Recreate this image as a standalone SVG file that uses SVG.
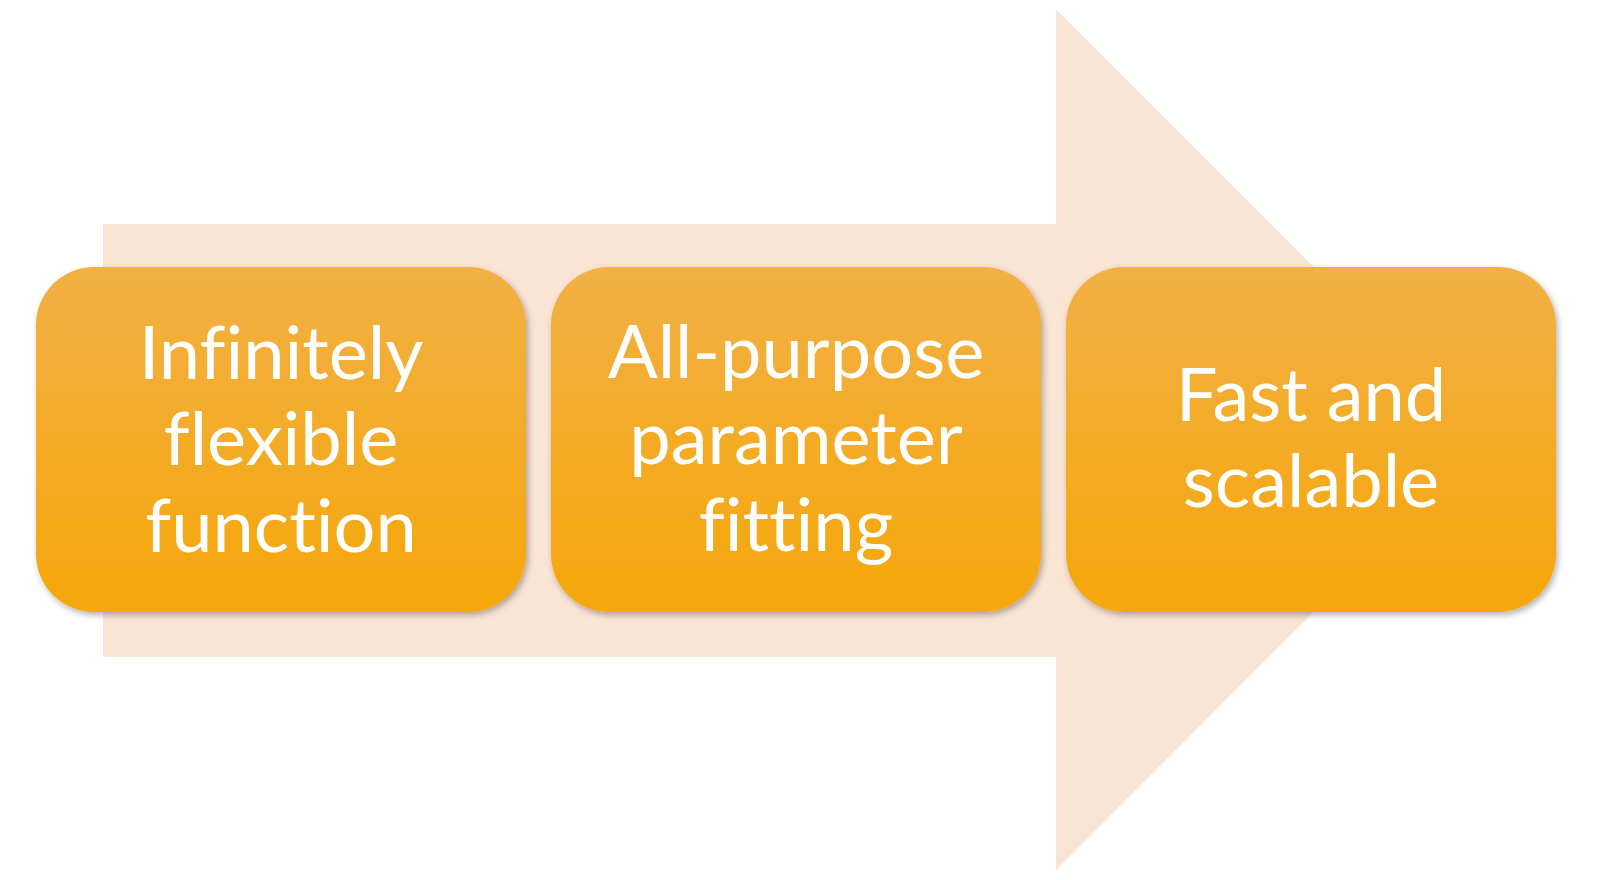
<svg xmlns="http://www.w3.org/2000/svg" width="1600" height="880" viewBox="0 0 1600 880">
  <defs>
    <linearGradient id="boxGrad" x1="0" y1="0" x2="0" y2="1">
      <stop offset="0" stop-color="#F2B045"/>
      <stop offset="1" stop-color="#F5A70A"/>
    </linearGradient>
    <filter id="shadow" x="-5%" y="-5%" width="112%" height="115%">
      <feDropShadow dx="2" dy="3" stdDeviation="3" flood-color="#000" flood-opacity="0.3"/>
    </filter>
  </defs>
  <style>
    .box { fill: url(#boxGrad); filter: url(#shadow); }
    .label { font-family: Lato, "Open Sans", "Liberation Sans", sans-serif; font-size: 74px; fill: #FFFFFF; text-anchor: middle; font-variant-ligatures: none; font-feature-settings: "liga" 0; }
    .arrow { fill: #FAE4D4; }
  </style>
  <rect width="1600" height="880" fill="#FFFFFF"/>
  <g id="connectors">
    <polygon id="process-arrow" class="arrow" points="103,224 1056,224 1056,9 1486,439.5 1056,870 1056,657 103,657"/>
  </g>
  <g id="node-1">
    <rect class="box" x="36" y="267" width="490" height="345" rx="58" ry="58"/>
    <text class="label" x="281" y="379">Infinitely</text>
    <text class="label" x="281" y="465">flexible</text>
    <text class="label" x="281" y="552">function</text>
  </g>
  <g id="node-2">
    <rect class="box" x="551" y="267" width="490" height="345" rx="58" ry="58"/>
    <text class="label" x="796" y="378">All-purpose</text>
    <text class="label" x="796" y="464">parameter</text>
    <text class="label" x="796" y="551">fitting</text>
  </g>
  <g id="node-3">
    <rect class="box" x="1066" y="267" width="490" height="345" rx="58" ry="58"/>
    <text class="label" x="1311" y="421">Fast and</text>
    <text class="label" x="1311" y="507">scalable</text>
  </g>
</svg>
